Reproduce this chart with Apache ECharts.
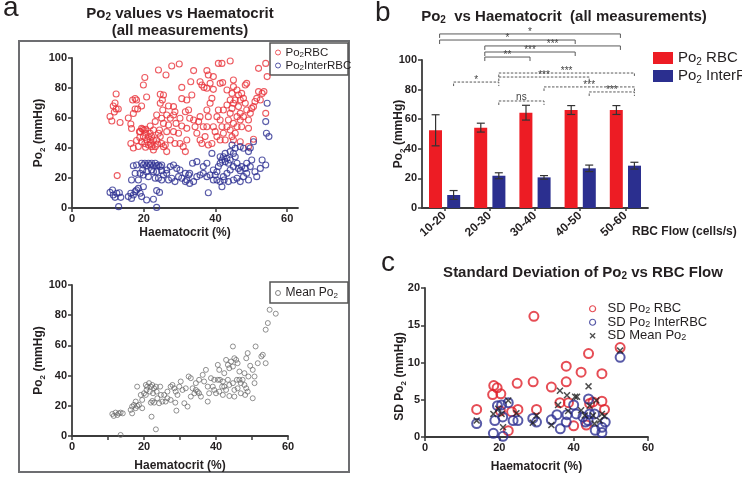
<!DOCTYPE html>
<html>
<head>
<meta charset="utf-8">
<script src="https://cdn.jsdelivr.net/npm/echarts@6/dist/echarts.min.js"></script>
<style>
  html, body { margin: 0; background: #fff; }
  #chart { width: 742px; height: 481px; }
</style>
</head>
<body>
<div id="chart"></div>
<script>
// ---- data ----
// panel a, top: [haematocrit %, Po2 mmHg]
const rbcPoints = [
  [10.6,61],[11.1,58],[11.5,68],[12.3,66],[11.8,64],[12.3,76],[12.9,66],[13.4,57],[12.6,21.6],[12,70],
  [15.7,60],[16.4,56],[16.6,53],[16.9,72],[17.6,73],[18,72],[17.1,63],[17.6,66],[18.3,66],[16.4,43],
  [17.1,40],[18,45],[19.4,68],[19.9,82],[20.3,87],[20.8,74],[18.5,41],
  [19,50.9],[19.4,53.1],[19.9,47.6],[20.1,52],[20.6,49.8],[20.8,45.3],[21.3,47.6],[21.8,49.8],[22.2,47.6],
  [22.7,45.3],[22,43],[20.3,43],[19.4,44.2],[23.2,40.9],[23.6,45.3],[24.1,49.8],[24.6,47.6],[25,43],
  [25.5,40.9],[22.7,38.7],[22.2,40.9],[20.6,52.5],[19.7,52.5],[18.8,50.9],[21.3,42],[23.9,42.6],[18.9,47],
  [24.4,52],[20.5,40.5],[21.8,45.5],
  [24.1,92],[26.2,88.7],[27.8,94.7],[29.9,96],[24.6,75.8],[25.5,75.3],[25.2,72],[24.6,69.8],[25.3,65.3],
  [25,59.8],[23.6,62],[26.4,62],[26.9,68],[28.3,67.6],[28.7,64.2],[28.3,62],[27.4,59.8],[29,56.4],
  [30.1,59.8],[30.6,72.9],[30.6,80.4],[32,72],[31.6,64.2],[32.5,65.3],[33.4,75.3],[33.9,91.6],[33.1,84.2],
  [32,45.3],[27.4,45.3],[26.4,37.6],[26,42],[28.7,43],[30.1,43],[31,40.9],[31.6,37.6],[32.8,59.8],
  [33.9,58.7],[34.3,54.2],[35.3,57.6],[35.7,60.9],[34.8,49.8],[35.7,45.3],[36.2,43],[37.1,47.6],[36.6,54.2],
  [37.6,54.2],[38,60.9],[37.6,65.3],[38.5,69.8],[39,73.1],[37.6,91.6],[38,88.7],[35.7,84.2],[36.2,82],
  [36.8,80.4],[37.6,79.8],[38.5,83.1],[39.4,79.1],[39.4,87.6],[40.8,96.4],[41.8,96.4],[44.1,98],[41.3,83.1],
  [42,83.6],[40.8,65.3],[40.4,60.9],[41.3,58.7],[41.8,54.2],[39.4,54.2],[39.9,50.9],[40.4,47.6],[39,43],
  [38,42],[41.3,45.3],[42.2,49.8],[42.7,45.3],[43.2,54.2],[43.6,58.7],[44.1,63.1],[44.6,66.4],[45,69.8],
  [45.5,72],[44.1,72],[43.2,68.7],[42.2,65.3],[43.2,78.7],[44.6,76.4],[45,80.9],[46,78.7],[46.4,75.3],
  [46.9,72],[47.3,76.4],[47.8,73.1],[48.3,82],[48.7,83.1],[48.3,69.8],[48.7,65.3],[47.8,60.9],[46.9,63.1],
  [46,60.9],[45,56.4],[46,54.2],[46.9,58.7],[47.3,54.2],[45.5,49.8],[44.6,47.6],[44.1,52],[45,85.3],
  [46.4,67.6],[49.2,58.7],[49.2,53.1],[49.7,63.1],[50.1,66.4],[50.6,67.6],[51,71],[51.5,73.1],[52,77.6],
  [52.5,72],[53,76.4],[53.5,77.6],[54,96.4],[52,93.1],[54.4,87.6],[54,63.1],[50.6,45.8],[49.2,40.9],
  [46.9,44.2],[45,45.3],[32,53.1],[30.6,54.7],[29.7,49.8],[28.3,50.9],[26.4,50.9],[26.9,55.3],[25.5,56.4],
  [23.2,57.6],[22.7,52],[21.8,54.7]
];
const interRbcPoints = [
  [10.6,10.4],[11.3,12],[11.5,8.7],[12,7.1],[12.5,9.8],[13.2,10.2],[13,0.9],[13.6,7.1],[15.7,7.6],[16.4,9.8],
  [16.6,6.4],[17.1,8.7],[17.6,10.9],[18,12],[18.5,13.1],[19,9.8],[19.4,7.6],[19.9,14.2],[20.8,5.3],[22.7,5.8],
  [23.6,11.6],[24.4,10.4],[23.6,0.4],[16.6,18.7],[17.6,23.1],[18,28.7],[17.1,28.2],
  [19.4,29.8],[19.9,28.7],[20.3,29.8],[20.8,28.2],[21.3,29.8],[21.8,28.7],[22.2,29.8],[22.7,28.2],[23.2,29.8],
  [23.6,28.2],[24.1,28.7],[24.6,27.6],[25,28.7],[19.7,25.3],[20.8,24.2],[22.2,25.3],[23.6,24.2],[25,24.9],
  [21.3,20.9],[23.2,19.8],[25.5,22],[26.4,23.1],[27.4,27.6],[28.3,28.7],[29.2,26.4],[30.1,25.3],[26.9,18.7],
  [27.8,19.8],[28.7,17.6],[29.7,20.9],[30.6,19.8],[31.6,17.6],[32,18.7],[32.8,16.4],[33.9,17.6],[34.8,20.9],
  [35.7,22],[36.6,23.1],[37.6,20.9],[38.5,22],[39.4,18.7],[39.9,22],[40.4,24.2],[40.8,27.6],[41.3,29.8],
  [41.8,32],[42.2,34.2],[42.7,30.9],[43.2,33.1],[43.6,29.8],[44.1,32],[44.6,42],[45,36.4],[45.5,34.2],
  [46,29.8],[46.4,26.4],[45,27.6],[44.1,25.3],[43.2,23.1],[42.2,20.9],[41.3,17.6],[41.8,14.2],[42.4,18.7],
  [43.6,17.6],[45,18.7],[46,19.8],[46.9,17.6],[47.8,20.9],[48.7,23.1],[49.2,18.7],[49.7,27.6],[50.1,32],
  [49.2,37.6],[49.7,40],[50.6,44.2],[51,24.2],[51.5,20.9],[52.5,26.4],[53,32],[54,28.7],[54,57.6],
  [54.2,49.8],[54.9,47.6],[54.4,69.8],[38,10.2],[39,36.4],[37.6,29.8],[36.6,27.6],[34.8,30.9],[33.6,29.8],
  [39.4,25.3],[40.4,18.7],[46.9,24.9],[47.3,27.6],[48.3,26.4],[48.7,29.8],[31.6,23.1],[32.5,22],[32.8,23.1],
  [26.4,25.3],[19.9,22],[19,23.1],[18.5,18.7],[22.7,24.2],[24.1,19.8],[25,18.7],[41.3,34.2],[42.7,36.4],
  [44.1,37.6],[45.5,39.8],[46.9,40.9],[47.8,39.8]
];
// panel a, bottom
const meanPoints = [
  [11.2,14.6],[11.6,13.3],[12.1,15.5],[12.6,13.9],[13,15],[13.5,15.5],[14.1,15],[13.5,0.7],[16.3,17.3],
  [16.7,19.5],[17.2,20.6],[17.7,18.4],[18.1,19.9],[18.6,20.6],[17.7,22.8],[16.7,15],[18.1,32.7],[19.1,27.2],
  [19.5,23.9],[20,28.3],[20.5,33.8],[20.9,32.7],[21.4,35],[21.9,32.7],[22.3,33.8],[22.8,31.6],[23.3,32.7],
  [20.7,30.5],[21.6,29.4],[22.5,28.3],[23.5,29.4],[24.5,32.7],[21.9,22.1],[22.3,23.2],[22.8,22.1],[24.2,21.7],
  [25.1,22.8],[26,22.8],[22.1,12.8],[23.3,4.4],[25.6,27.2],[26.5,29.4],[27.4,32.7],[27.9,33.8],[28.4,31.6],
  [28.8,29.4],[29.3,27.2],[28.7,22.1],[29,16.8],[29.8,32.7],[30.2,36.1],[30.7,30.5],[31.2,21.7],[32.1,19.5],
  [32.4,39.4],[33,38.3],[33.5,31.6],[34,28.3],[34.4,30.5],[34.9,29.4],[35.3,28.3],[35.8,26.1],[36.3,40.5],
  [36.7,36.1],[37.2,43.8],[37.7,32.7],[37.7,22.8],[38.1,28.3],[38.6,38.3],[39.1,32.7],[39.5,30.5],[40,28.3],
  [40.5,47.1],[40.9,43.8],[41.1,37.2],[41.7,32.7],[41.9,27.2],[42.3,41.6],[42.8,50.4],[43.3,47.1],[43.7,44.9],
  [44.2,49.3],[44.7,59.3],[44.7,46],[45.1,51.5],[45.6,50.4],[46,48.2],[46.5,42.7],[45.8,37.2],[44.7,35],
  [43.7,33.8],[45.1,30.5],[46,31.6],[46.9,35],[47.4,37.2],[47.9,33.8],[48.4,31.6],[48.8,29.4],[48.1,27.2],
  [46.9,28.3],[45.1,26.1],[43.7,26.5],[42.8,30.5],[48.4,51.5],[48.8,54.9],[49.5,46.5],[50.2,43.8],[50.2,25],
  [50.7,39.4],[50.7,35],[51,59.3],[51.6,48.2],[52.6,52.7],[53,53.8],[53.8,48.2],[53.8,70.4],[54.4,74.8],
  [54.9,83.6],[56.6,81],[35.3,37.2],[34.4,35],[33,26.1],[31.6,31.6],[39.5,37.2],[40.5,37.2],[40.9,29.4],
  [41.9,36.1],[42.3,32.7],[43.3,37.2],[46.5,37.2],[47.9,41.6],[49,39.4],[19.5,18.4],[20.5,27.2],[23.7,25],
  [24.7,27.2],[26.5,25],[27.4,23.9]
];

// panel b
const flowBins = ['10-20', '20-30', '30-40', '40-50', '50-60'];
const rbcMean = [52.5, 54.3, 64.4, 66.2, 66.2];
const rbcErr = [10.5, 3, 5, 3, 3];
const interMean = [8.8, 21.8, 20.7, 26.8, 28.6];
const interErr = [3, 2, 1.2, 2.2, 2.3];
// significance brackets: [from bin, to bin, height]
const rbcBrackets = [[0, 4, 117.6], [0, 3, 113.5], [1, 4, 109.5], [1, 3, 105.4], [1, 2, 102]];
const rbcBracketLabels = ['*', '*', '***', '***', '**'];
const interBrackets = [[1, 4, 91.2], [1, 3, 88.5], [0, 1, 85.1], [2, 4, 81.8], [3, 4, 78.4], [1, 2, 72.3]];
const interBracketLabels = ['***', '***', '*', '***', '***', 'ns'];

// panel c
const sdRbc = [
  [13.9,3.7],[18.5,6.9],[19.4,6.6],[18.2,5.7],[20.4,5.8],[20.3,3.5],[22.4,0.85],[23.3,3.4],[24.8,7.2],[25,3.7],
  [29.1,7.4],[29.3,16.2],[30,3.7],[34,6.7],[36.3,4.6],[38,9.5],[38,7.4],[38.6,4.6],[40,1.5],[42,8.7],
  [44,11.2],[44.3,4.5],[45.2,4.7],[47.6,8.5],[47.6,4.8],[48.3,3.7],[52.5,12],[43.4,1.6]
];
const sdInter = [
  [13.9,1.8],[18.4,0.5],[18.8,2.2],[19.5,4.2],[20.6,4.3],[21,0.1],[20.9,2.7],[22.4,4.6],[23.7,2.2],[25,2.2],
  [29,2.5],[30,2],[34,2.3],[35.5,3],[36.4,1.1],[38,2],[38.2,3],[40,4.3],[40.7,3.1],[42.5,2.7],
  [43.2,2],[44,5.1],[44.3,3.1],[45.6,3.1],[45.8,0.9],[47.6,1.3],[47.6,0.6],[48.5,2],[52.5,10.7],[43.9,2.2]
];
const sdMean = [
  [13.9,2.2],[18.4,3.1],[19.7,3.8],[20.6,3.1],[21,1.3],[22.4,4.9],[24.6,3.2],[29,1.9],[30,2.9],[34,1.6],
  [35.8,4.3],[36.3,6.2],[38.2,5.6],[38.5,3.5],[40.4,5.4],[40.9,5.4],[42,3.6],[43,2.9],[44,6.8],[44.3,4.2],
  [45.2,2.9],[46.1,4.9],[47,2.2],[47.6,3.1],[48.3,2.8],[52.5,11.6],[45.6,1.8]
];

// ---- styling ----
const FONT = '"Liberation Sans", Arial, Helvetica, sans-serif';
const INK = '#231f20';
const AXIS = '#3b3b3b';
const RED = '#e8323a';
const BLUE = '#2e3192';
const BAR_RED = '#ed1c24';
const BAR_BLUE = '#2b2f8f';
const BAR_W = 13;
const BAR_OFFSET = 9;

function sub(size, bold) {
  return { fontSize: size, fontWeight: bold ? 'bold' : 'normal', fontFamily: FONT, color: INK,
           verticalAlign: 'bottom', lineHeight: size };
}
function withSub(text) { return text.replace('₂', '{s|2}'); }

function valueAxis(gridIndex, min, max, interval, name, nameGap, extra) {
  const ax = {
    type: 'value', gridIndex, min, max, interval,
    name, nameLocation: 'middle', nameGap, nameMoveOverlap: false,
    splitLine: { show: false },
    axisLine: { show: true, onZero: false, lineStyle: { color: AXIS, width: 1.8 } },
    axisTick: { show: true, length: 4, lineStyle: { color: AXIS, width: 1.5 } },
    axisLabel: { color: INK, fontFamily: FONT, fontWeight: 'bold', fontSize: 11, margin: 5 },
    nameTextStyle: { color: INK, fontFamily: FONT, fontWeight: 'bold', fontSize: 12, lineHeight: 16,
                     rich: { s: sub(8, true) } }
  };
  if (extra) {
    for (const k in extra) ax[k] = Object.assign({}, ax[k], extra[k]);
  }
  return ax;
}

function legendText(size, lh) {
  return { color: INK, fontFamily: FONT, fontSize: size, lineHeight: lh, rich: { s: sub(Math.round(size * 0.68), false) } };
}

function errorBar(offset) {
  return function (params, api) {
    const x = api.coord([api.value(0), 0])[0] + offset;
    const top = api.coord([api.value(0), api.value(1) + api.value(2)])[1];
    const bottom = api.coord([api.value(0), api.value(1) - api.value(2)])[1];
    const style = { stroke: '#333', lineWidth: 1.2 };
    return { type: 'group', children: [
      { type: 'line', shape: { x1: x, y1: top, x2: x, y2: bottom }, style },
      { type: 'line', shape: { x1: x - 4, y1: top, x2: x + 4, y2: top }, style },
      { type: 'line', shape: { x1: x - 4, y1: bottom, x2: x + 4, y2: bottom }, style }
    ] };
  };
}

function bracket(labels, offset, dashed) {
  return function (params, api) {
    const y = api.coord([0, api.value(2)])[1];
    const x1 = api.coord([api.value(0), 0])[0] + offset;
    const x2 = api.coord([api.value(1), 0])[0] + offset;
    const label = labels[params.dataIndex];
    const style = { stroke: '#5a5a5a', lineWidth: 1, fill: null, lineDash: dashed ? [2.5, 1.5] : null };
    return { type: 'group', children: [
      { type: 'polyline', shape: { points: [[x1, y + 4], [x1, y], [x2, y], [x2, y + 4]] }, style },
      { type: 'text', x: (x1 + x2) / 2, y: label === 'ns' ? y + 1 : y + 3,
        style: { text: label, align: 'center', verticalAlign: 'bottom', fontSize: 10,
                 fontFamily: FONT, fill: '#444' } }
    ] };
  };
}

const chart = echarts.init(document.getElementById('chart'), null, { renderer: 'canvas' });

const titleText = (size) => ({ color: INK, fontFamily: FONT, fontWeight: 'bold', fontSize: size, lineHeight: 17,
                               rich: { s: sub(10, true) } });
const letterText = { color: INK, fontFamily: FONT, fontWeight: 'normal', fontSize: 28, lineHeight: 28 };

chart.setOption({
  animation: false,
  backgroundColor: '#fff',
  title: [
    { text: 'a', left: 3, top: -6, padding: 0, textStyle: letterText },
    { text: 'b', left: 375, top: -1, padding: 0, textStyle: letterText },
    { text: 'c', left: 381, top: 249, padding: 0, textStyle: letterText },
    { text: 'Po{s|2} values vs Haematocrit\n(all measurements)', left: 180, top: 5.5, padding: 0,
      textAlign: 'center', textStyle: titleText(15) },
    { text: 'Po{s|2}  vs Haematocrit  (all measurements)', left: 564, top: 8.5, padding: 0,
      textAlign: 'center', textStyle: titleText(15) },
    { text: 'Standard Deviation of Po{s|2} vs RBC Flow', left: 583, top: 264.5, padding: 0,
      textAlign: 'center', textStyle: titleText(15) }
  ],
  graphic: [
    { type: 'rect', shape: { x: 19, y: 41, width: 330, height: 431 }, style: { fill: 'none', stroke: '#6d6e71', lineWidth: 2 } },
    { type: 'rect', shape: { x: 270, y: 43, width: 78, height: 32 }, style: { fill: 'none', stroke: '#555', lineWidth: 1.5 } },
    { type: 'rect', shape: { x: 270, y: 282, width: 78, height: 21 }, style: { fill: 'none', stroke: '#555', lineWidth: 1.5 } }
  ],
  legend: [
    { data: ['Po₂RBC', 'Po₂InterRBC'], orient: 'vertical', left: 275, top: 46, padding: 0,
      itemWidth: 5, itemHeight: 5, itemGap: 0, selectedMode: false, formatter: withSub,
      itemStyle: { borderWidth: 1 }, textStyle: legendText(11.5, 13) },
    { data: ['Mean Po₂'], orient: 'vertical', left: 275, top: 286, padding: 0,
      itemWidth: 5, itemHeight: 5, itemGap: 0, selectedMode: false, formatter: withSub,
      itemStyle: { borderWidth: 1 }, textStyle: legendText(12, 14) },
    { data: ['Po₂ RBC', 'Po₂ InterRBC'], orient: 'vertical', left: 653, top: 49, padding: 0, icon: 'rect',
      itemWidth: 20, itemHeight: 12, itemGap: 0, selectedMode: false, formatter: withSub, textStyle: legendText(15, 18) },
    { data: ['SD Po₂ RBC', 'SD Po₂ InterRBC', 'SD Mean Po₂'], orient: 'vertical', left: 589, top: 302, padding: 0,
      itemWidth: 6, itemHeight: 6, itemGap: 0, selectedMode: false, formatter: withSub,
      itemStyle: { borderWidth: 1.2 },
      textStyle: Object.assign(legendText(13, 13.5), { padding: [0, 0, 0, 7] }) }
  ],
  grid: [
    { left: 72, top: 58, width: 226, height: 150, outerBoundsMode: 'none' },
    { left: 72, top: 285, width: 216, height: 151, outerBoundsMode: 'none' },
    { left: 422, top: 60, width: 226, height: 148, outerBoundsMode: 'none' },
    { left: 425, top: 288, width: 223, height: 149, outerBoundsMode: 'none' }
  ],
  xAxis: [
    valueAxis(0, 0, 63, 20, 'Haematocrit (%)', 17, {
      axisTick: { customValues: [0, 20, 40, 60] }, axisLabel: { customValues: [0, 20, 40, 60] } }),
    valueAxis(1, 0, 60, 10, 'Haematocrit (%)', 22, { axisLabel: { customValues: [0, 20, 40, 60] } }),
    { type: 'category', gridIndex: 2, data: flowBins,
      name: 'RBC Flow (cells/s)', nameLocation: 'end', nameGap: -16, nameMoveOverlap: false,
      nameTextStyle: { color: INK, fontFamily: FONT, fontWeight: 'bold', fontSize: 12,
                       align: 'left', verticalAlign: 'top', padding: [18, 0, 0, 0] },
      axisLine: { show: true, lineStyle: { color: AXIS, width: 1.8 } },
      axisTick: { show: true, alignWithLabel: true, length: 3, lineStyle: { color: AXIS, width: 1.5 } },
      axisLabel: { color: INK, fontFamily: FONT, fontWeight: 'bold', fontSize: 12, rotate: 42, margin: 6 } },
    valueAxis(3, 0, 60, 20, 'Haematocrit (%)', 22)
  ],
  yAxis: [
    valueAxis(0, 0, 100, 20, 'Po{s|2} (mmHg)', 25),
    valueAxis(1, 0, 100, 20, 'Po{s|2} (mmHg)', 25),
    valueAxis(2, 0, 100, 20, 'Po{s|2} (mmHg)', 15),
    valueAxis(3, 0, 20, 5, 'SD Po{s|2} (mmHg)', 17, { nameTextStyle: { padding: [0, 28, 0, 0] } })
  ],
  series: [
    { name: 'Po₂RBC', type: 'scatter', xAxisIndex: 0, yAxisIndex: 0, data: rbcPoints,
      symbol: 'circle', symbolSize: 6, itemStyle: { color: 'transparent', borderColor: RED, borderWidth: 1.1 } },
    { name: 'Po₂InterRBC', type: 'scatter', xAxisIndex: 0, yAxisIndex: 0, data: interRbcPoints,
      symbol: 'circle', symbolSize: 6, itemStyle: { color: 'transparent', borderColor: BLUE, borderWidth: 1.1 } },
    { name: 'Mean Po₂', type: 'scatter', xAxisIndex: 1, yAxisIndex: 1, data: meanPoints,
      symbol: 'circle', symbolSize: 5, itemStyle: { color: 'transparent', borderColor: '#666', borderWidth: 0.9 } },
    { name: 'Po₂ RBC', type: 'bar', xAxisIndex: 2, yAxisIndex: 2, data: rbcMean,
      barWidth: BAR_W, barGap: '40%', itemStyle: { color: BAR_RED } },
    { name: 'Po₂ InterRBC', type: 'bar', xAxisIndex: 2, yAxisIndex: 2, data: interMean,
      barWidth: BAR_W, barGap: '40%', itemStyle: { color: BAR_BLUE } },
    { type: 'custom', xAxisIndex: 2, yAxisIndex: 2, renderItem: errorBar(-BAR_OFFSET),
      data: rbcMean.map((m, i) => [i, m, rbcErr[i]]), encode: { x: 0, y: 1 }, z: 3 },
    { type: 'custom', xAxisIndex: 2, yAxisIndex: 2, renderItem: errorBar(BAR_OFFSET),
      data: interMean.map((m, i) => [i, m, interErr[i]]), encode: { x: 0, y: 1 }, z: 3 },
    { type: 'custom', xAxisIndex: 2, yAxisIndex: 2, renderItem: bracket(rbcBracketLabels, -5, false),
      data: rbcBrackets, encode: { x: [0, 1], y: 2 }, clip: false, z: 3 },
    { type: 'custom', xAxisIndex: 2, yAxisIndex: 2, renderItem: bracket(interBracketLabels, BAR_OFFSET, true),
      data: interBrackets, encode: { x: [0, 1], y: 2 }, clip: false, z: 3 },
    { name: 'SD Po₂ RBC', type: 'scatter', xAxisIndex: 3, yAxisIndex: 3, data: sdRbc,
      symbol: 'circle', symbolSize: 9, itemStyle: { color: 'transparent', borderColor: '#e0202a', borderWidth: 2 } },
    { name: 'SD Po₂ InterRBC', type: 'scatter', xAxisIndex: 3, yAxisIndex: 3, data: sdInter,
      symbol: 'circle', symbolSize: 9, itemStyle: { color: 'transparent', borderColor: BLUE, borderWidth: 2 } },
    { name: 'SD Mean Po₂', type: 'scatter', xAxisIndex: 3, yAxisIndex: 3, data: sdMean,
      symbol: 'path://M0,1.5L1.5,0L5,3.5L8.5,0L10,1.5L6.5,5L10,8.5L8.5,10L5,6.5L1.5,10L0,8.5L3.5,5Z',
      symbolSize: 7, itemStyle: { color: '#222' } }
  ]
});
</script>
</body>
</html>
